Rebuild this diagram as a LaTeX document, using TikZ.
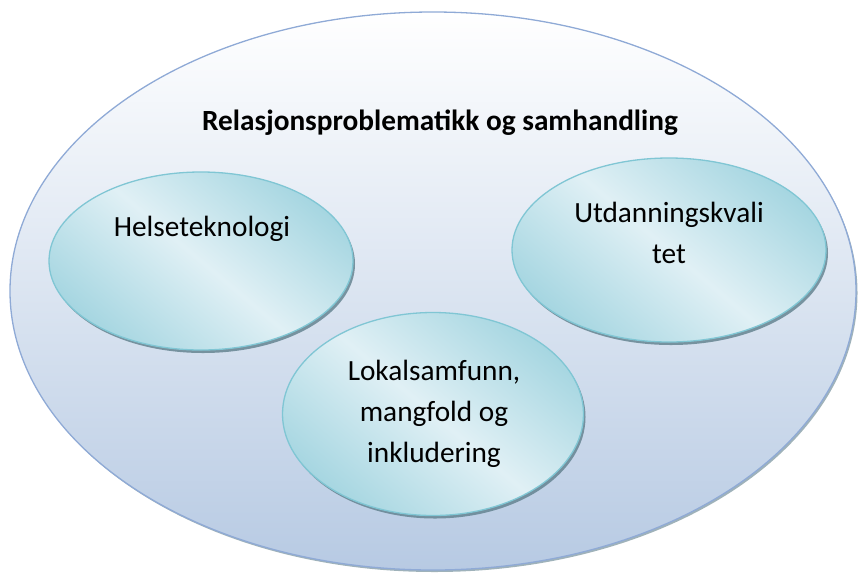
\documentclass[tikz,border=0pt]{standalone}
\usepackage{fontspec}
\setmainfont{Carlito}
\usetikzlibrary{shapes.geometric,shadows}
\definecolor{outerborder}{HTML}{8FAAD6}
\definecolor{outerbottom}{HTML}{B7CAE3}
\definecolor{innerdark}{HTML}{A6D6E1}
\definecolor{innerlight}{HTML}{E0F0F5}
\definecolor{innerborder}{HTML}{80C6D4}
\definecolor{shadowcol}{HTML}{5F7F8C}
\tikzset{
  outerell/.style={ellipse, draw=outerborder, line width=1.3pt, top color=white, bottom color=outerbottom,
    drop shadow={shadow xshift=1.5pt, shadow yshift=-2pt, fill=shadowcol, opacity=0.6}},
  innerell/.style={ellipse, draw=innerborder, line width=1.3pt, shading=axis, top color=innerdark,
    bottom color=innerdark, middle color=innerlight, shading angle=-40,
    drop shadow={shadow xshift=2pt, shadow yshift=-3pt, fill=shadowcol, opacity=0.8}},
  lbl/.style={font=\fontsize{29.3}{41}\selectfont, align=center, text=black, inner sep=0pt},
  titlelbl/.style={font=\fontsize{29.3}{34}\selectfont\bfseries, text=black, inner sep=0pt}
}
\begin{document}
\begin{tikzpicture}[x=1pt,y=-1pt]
\useasboundingbox (0,0) rectangle (858,574);
\node[outerell, minimum width=846pt, minimum height=558pt] (outer) at (433,291) {};
\node[titlelbl, anchor=base] (title) at (440,130) {Relasjonsproblematikk og samhandling};
\node[innerell, minimum width=304pt, minimum height=178pt] (helse) at (201,261) {};
\node[innerell, minimum width=314pt, minimum height=184pt] (utd) at (669,250) {};
\node[innerell, minimum width=301pt, minimum height=203pt] (lokal) at (433,414) {};
\node[lbl, anchor=base] (thelse) at (202,236) {Helseteknologi};
\node[lbl, anchor=base] (tutd) at (669,263) {Utdanningskvali\\tet};
\node[lbl, anchor=base] (tlokal) at (434,462) {Lokalsamfunn,\\mangfold og\\inkludering};
\end{tikzpicture}
\end{document}
